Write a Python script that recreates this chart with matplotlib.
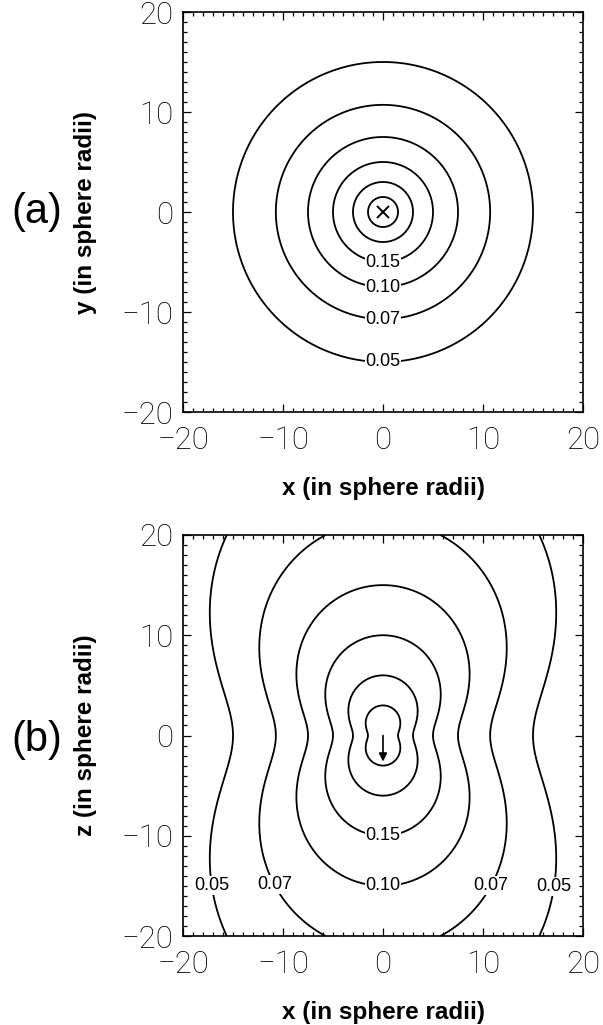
import numpy as np
import matplotlib
matplotlib.use('Agg')
import matplotlib.pyplot as plt
from matplotlib.ticker import MultipleLocator

# Poziomy konturów i parametry
levels = [0.05, 0.07, 0.10, 0.15, 0.25, 0.50]
amplitude = 0.75          # |u| = 0.75 / r w płaszczyźnie prostopadłej do siły
axis_range = [-20, 20]
tick_values = [-20, -10, 0, 10, 20]
tick_labels = ['\u221220', '\u221210', '0', '10', '20']

# etykiety konturów (a): poziom i punkt, przy którym stoi etykieta
label_levels_a = [0.15, 0.10, 0.07, 0.05]
label_x_a = [0, 0, 0, 0]
label_y_a = [-5.0, -7.5, -10.7, -15.0]

# etykiety konturów (b)
label_levels_b = [0.15, 0.10, 0.07, 0.07, 0.05, 0.05]
label_x_b = [0, 0, -11.1, 10.8, -17.5, 16.7]
label_z_b = [-10.0, -15.0, -15.0, -15.0, -15.0, -15.0]

# położenie siły: (a) krzyżyk - siła w głąb rysunku, (b) strzałka w dół
force_x = [0.0]
force_y = [0.0]
force_tail = (0.0, 0.0)
force_head = (0.0, -2.6)

panel_titles = ['(a)', '(b)']
xlabel = 'x (in sphere radii)'
ylabels = ['y (in sphere radii)', 'z (in sphere radii)']

tick_font = dict(family='Roboto', weight='light', size=22.5)
label_font = dict(family='Liberation Sans', weight='bold', size=17.5)

# siatka
g = np.linspace(axis_range[0], axis_range[1], 400)
X, Y = np.meshgrid(g, g)
R = np.hypot(X, Y)
speed_a = amplitude / R
speed_b = amplitude * np.sqrt(1 + 3 * (Y / R) ** 2) / R

fig = plt.figure(figsize=(6.03, 10.25), dpi=100)
ax_a = fig.add_axes([183 / 603, 1 - 412 / 1025, 400 / 603, 400 / 1025])
ax_b = fig.add_axes([183 / 603, 1 - 936 / 1025, 400 / 603, 401 / 1025])


def style_axes(ax, ylab):
    ax.set_xlim(axis_range)
    ax.set_ylim(axis_range)
    ax.set_xticks(tick_values, tick_labels)
    ax.set_yticks(tick_values, tick_labels)
    ax.xaxis.set_minor_locator(MultipleLocator(1))
    ax.yaxis.set_minor_locator(MultipleLocator(1))
    ax.tick_params(which='both', direction='in', top=True, right=True, width=0.9)
    ax.tick_params(which='major', length=5.5)
    ax.tick_params(which='minor', length=2.6)
    ax.tick_params(axis='x', pad=10)
    ax.tick_params(axis='y', pad=7)
    for lab in ax.get_xticklabels() + ax.get_yticklabels():
        lab.set_fontfamily(tick_font['family'])
        lab.set_fontweight(tick_font['weight'])
        lab.set_fontsize(tick_font['size'])
    for sp in ax.spines.values():
        sp.set_linewidth(1.2)
    ax.set_xlabel(xlabel, **label_font)
    ax.set_ylabel(ylab, **label_font)
    ax.xaxis.set_label_coords(0.5, -0.1625)
    ax.yaxis.set_label_coords(-0.215, 0.5)


def add_labels(ax, cs, lev, xs, ys):
    txts = ax.clabel(cs, levels=sorted(set(lev)), inline=False, fmt='%.2f',
                     fontsize=13, manual=list(zip(xs, ys)))
    for t in txts:
        t.set_rotation(0)
        t.set_fontfamily('Liberation Sans')
        t.set_zorder(5)
        t.set_bbox(dict(fc='white', ec='none', pad=0.6))


# (a) płaszczyzna x-y
cs_a = ax_a.contour(X, Y, speed_a, levels=levels, colors='black', linewidths=1.3)
add_labels(ax_a, cs_a, label_levels_a, label_x_a, label_y_a)
ax_a.plot(force_x, force_y, marker='x', color='black', markersize=9, mew=1.4, ls='none')
style_axes(ax_a, ylabels[0])

# (b) płaszczyzna x-z
cs_b = ax_b.contour(X, Y, speed_b, levels=levels, colors='black', linewidths=1.3)
add_labels(ax_b, cs_b, label_levels_b, label_x_b, label_z_b)
ax_b.annotate('', xy=force_head, xytext=force_tail,
              arrowprops=dict(arrowstyle='-|>', color='black', lw=1.2,
                              mutation_scale=12, shrinkA=0, shrinkB=0))
style_axes(ax_b, ylabels[1])

fig.text(37 / 603, 1 - 212 / 1025, panel_titles[0], fontsize=30,
         family='Liberation Sans', ha='center', va='center')
fig.text(37 / 603, 1 - 740 / 1025, panel_titles[1], fontsize=30,
         family='Liberation Sans', ha='center', va='center')

fig.savefig('out.png', dpi=100)
